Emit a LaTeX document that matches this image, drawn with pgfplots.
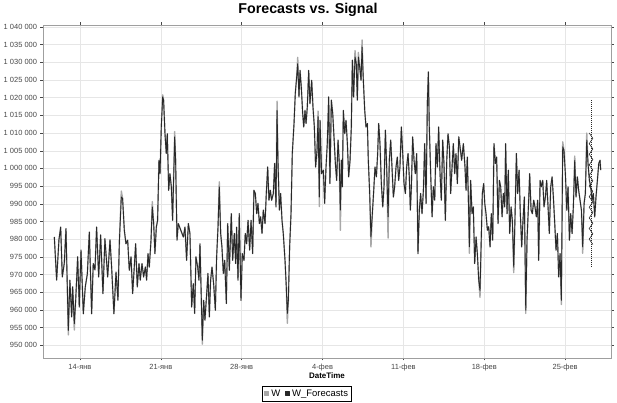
\documentclass[border=0pt]{standalone}
\usepackage{fontspec}
\setmainfont{Liberation Sans}
\usepackage{pgfplots}
\usepackage{pgfplotstable}
\pgfplotsset{compat=1.18}
\definecolor{wgray}{RGB}{168,168,168}
\definecolor{fblack}{RGB}{40,40,40}
\definecolor{tickgray}{RGB}{70,70,70}
\definecolor{gridgray}{RGB}{230,230,230}
\pgfplotstableread{
d W F
11.78 980600 980600
11.98 968400 968400
12.18 979800 979800
12.33 983400 983400
12.47 969300 969300
12.64 973100 973100
12.79 983000 983000
12.99 952900 954200
13.13 968400 968400
13.28 958000 958000
13.37 966500 966500
13.51 954300 956100
13.63 962800 962800
13.80 975000 975000
13.94 960800 960800
14.09 976900 976900
14.29 958900 958900
14.46 966500 966500
14.64 970200 970200
14.81 982000 982000
15.01 958900 958900
15.15 973100 973100
15.30 971300 971300
15.44 983400 983400
15.62 969300 969300
15.79 981200 981200
15.99 964600 964600
16.16 980100 980100
16.40 969300 969300
16.60 979800 979800
16.74 972100 972100
16.94 958900 958900
17.12 970700 970700
17.29 962700 962700
17.41 979200 979200
17.58 993600 991900
17.69 991500 991500
17.84 982500 982500
17.98 978700 978700
18.13 979700 979700
18.27 971200 971200
18.42 975000 975000
18.56 964600 964600
18.70 972100 972100
18.82 978700 978700
18.96 966500 966500
19.11 973100 973100
19.22 968400 968400
19.37 973100 973100
19.51 969300 969300
19.66 972100 972100
19.77 968400 968400
19.89 975900 975900
20.00 972100 972100
20.15 979700 979700
20.26 990600 989100
20.38 984400 984400
20.49 975900 975900
20.61 983400 983400
20.72 985300 985300
20.84 1002300 1002300
20.93 998500 998500
21.04 1011700 1011700
21.16 1020800 1020200
21.24 1019300 1019300
21.36 1009800 1009800
21.47 1004200 1004200
21.56 1009800 1009800
21.68 993800 993800
21.79 998500 998500
21.91 994800 994800
22.02 985300 985300
22.20 1010400 1008900
22.28 1002300 1002300
22.40 979700 979700
22.51 984400 984400
22.95 980600 980600
23.09 983400 983400
23.23 974000 974000
23.38 984400 984400
23.52 981600 981600
23.67 960800 960800
23.81 967400 967400
23.93 959000 959000
24.04 975000 975000
24.19 972100 972100
24.30 968400 968400
24.39 978700 978700
24.48 966500 966500
24.59 950300 951400
24.71 962700 962700
24.82 957100 957100
24.97 964600 964600
25.08 970300 970300
25.20 958000 958000
25.31 968400 968400
25.43 972100 972100
25.57 967400 967400
25.72 959900 959900
25.83 975000 975000
25.95 983400 983400
26.06 996200 994800
26.18 981600 981600
26.29 977800 977800
26.41 970300 970300
26.53 974000 974000
26.67 961800 961800
26.79 984400 984400
26.93 971200 971200
27.10 987200 987200
27.22 974000 974000
27.36 981600 981600
27.48 973100 973100
27.56 983400 983400
27.68 968400 968400
27.79 987200 987200
27.94 962700 962700
28.05 975900 975900
28.20 974000 974000
28.31 981600 981600
28.43 978700 978700
28.55 985300 985300
28.69 976900 976900
28.81 985300 985300
28.95 975900 975900
29.06 993800 993800
29.18 992900 992900
29.30 987200 987200
29.41 990100 990100
29.53 984400 984400
29.64 986300 986300
29.76 981600 981600
29.87 988200 988200
30.02 984400 984400
30.13 992900 992900
30.25 1000400 1000400
30.36 991000 991000
30.48 993800 993800
30.59 991000 991000
30.74 992900 992900
30.85 1001400 1001400
30.97 989100 989100
31.06 1019000 1016400
31.14 1002300 1002300
31.26 988200 988200
31.37 992900 992900
31.49 985300 985300
31.60 981600 981600
31.75 974000 974000
31.86 966500 966500
31.95 956200 959000
32.04 962700 962700
32.15 977800 977800
32.27 987200 987200
32.38 1004200 1004200
32.53 1012700 1012700
32.64 1021200 1021200
32.76 1025900 1025900
32.85 1031400 1029600
32.96 1020200 1020200
33.05 1027700 1027700
33.16 1023000 1023000
33.28 1015500 1015500
33.37 1011700 1011700
33.48 1016400 1016400
33.57 1012700 1012700
33.68 1017400 1017400
33.80 1027700 1027700
33.91 1018300 1018300
34.06 1024900 1024900
34.17 1017400 1017400
34.29 1011700 1011700
34.40 1000400 1000400
34.52 1005100 1005100
34.61 1016200 1014600
34.72 989200 991900
34.78 1013600 1013600
34.92 998500 998500
35.07 999500 999500
35.18 990100 990100
35.30 1000400 1000400
35.41 1007000 1007000
35.53 1020200 1020200
35.64 995700 995700
35.76 1019300 1019300
35.88 1015500 1015500
35.99 1008900 1008900
36.11 1001400 1001400
36.22 996600 996600
36.34 1008000 1008000
36.45 1001400 1001400
36.54 982500 988200
36.63 1002300 1002300
36.71 994800 994800
36.80 1016400 1016400
36.92 1009800 1009800
37.03 1013600 1013600
37.15 1007000 1007000
37.26 997600 997600
37.38 1002300 1002300
37.49 1011700 1011700
37.58 1030600 1030600
37.69 1020200 1020200
37.81 1033300 1031500
37.92 1029600 1029600
38.01 1019300 1019300
38.10 1032800 1031500
38.21 1028700 1028700
38.33 1024900 1024900
38.42 1036300 1034300
38.53 1024900 1024900
38.65 1016400 1016400
38.76 1011700 1011700
38.88 1012700 1012700
38.96 1002300 1002300
39.08 992900 992900
39.19 977800 980600
39.31 987200 987200
39.43 993800 993800
39.54 1000400 1000400
39.66 997600 997600
39.77 1004200 1004200
39.86 1012700 1012700
39.97 1007000 1007000
40.09 995700 995700
40.21 989100 989100
40.32 994800 994800
40.44 1010800 1010800
40.55 1000400 1000400
40.67 980300 986300
40.78 1002300 1002300
40.90 1008000 1008000
41.01 1000400 1000400
41.13 991900 991900
41.24 994800 994800
41.36 1000400 1000400
41.47 1003200 1003200
41.59 996600 996600
41.70 1000400 1000400
41.82 1011700 1011700
41.94 1004200 1004200
42.05 995700 995700
42.17 992900 992900
42.28 1000400 1000400
42.40 1004200 1004200
42.51 997600 997600
42.60 988200 988200
42.69 994800 994800
42.80 1008900 1008900
42.92 1002300 1002300
43.03 998500 998500
43.15 1004200 1004200
43.26 975900 975900
43.38 988200 988200
43.49 992900 992900
43.61 987200 987200
43.73 993800 993800
43.84 1007000 1007000
43.96 990100 990100
44.07 1018300 1018300
44.16 1027300 1027300
44.24 1011700 1011700
44.36 998500 998500
44.48 986300 986300
44.59 994800 994800
44.71 991000 991000
44.82 1007000 1007000
44.94 1000400 1000400
45.05 1011700 1011700
45.17 998500 998500
45.28 991000 991000
45.40 1008000 1008000
45.51 1001400 1001400
45.63 985300 985300
45.75 1002300 1002300
45.86 1009800 1009800
45.98 1006100 1006100
46.09 992900 992900
46.21 1000400 1000400
46.32 1007000 1007000
46.44 998500 998500
46.55 1004200 1004200
46.67 995700 995700
46.79 1008900 1008900
46.90 1006100 1006100
47.04 1002300 1002300
47.19 1007000 1007000
47.33 1000400 1000400
47.42 993800 993800
47.53 1003200 1003200
47.62 991900 991900
47.71 976000 977800
47.82 996600 996600
47.94 987200 987200
48.05 989100 989100
48.17 973100 973100
48.29 980600 980600
48.40 975900 975900
48.52 968400 968400
48.63 963500 965500
48.75 981600 981600
48.83 992900 992900
48.95 995700 995700
49.04 990100 990100
49.15 987200 987200
49.27 982500 982500
49.38 983500 983500
49.50 977800 977800
49.61 987200 987200
49.73 979700 979700
49.84 1007000 1007000
49.96 1001400 1001400
50.07 1003200 1003200
50.19 984400 984400
50.31 996600 996600
50.42 994800 994800
50.54 986300 986300
50.65 992900 992900
50.77 989100 989100
50.85 1007000 1007000
50.97 987200 987200
51.08 999500 999500
51.20 981600 981600
51.32 989100 989100
51.43 985300 985300
51.55 970500 972100
51.66 986300 986300
51.78 1004200 1004200
51.89 992900 992900
52.01 999500 999500
52.12 987200 987200
52.24 977800 977800
52.35 985300 985300
52.47 991900 991900
52.59 959000 959900
52.70 979700 979700
52.82 989100 989100
52.93 998500 998500
53.05 988200 988200
53.16 987200 987200
53.28 991000 991000
53.39 989100 989100
53.51 986300 986300
53.62 991000 991000
53.71 974000 974000
53.83 996600 996600
53.94 994800 994800
54.06 996600 996600
54.17 989100 989100
54.29 991900 991900
54.40 996600 996600
54.52 989100 989100
54.63 981600 981600
54.75 994800 994800
54.87 997600 997600
54.98 991900 991900
55.10 984400 984400
55.21 976900 976900
55.33 981600 981600
55.44 969300 969300
55.56 975900 975900
55.67 961500 962700
55.79 1007500 1006100
55.90 1005100 1005100
56.02 998500 998500
56.14 988200 988200
56.25 994800 994800
56.37 979700 979700
56.48 987200 987200
56.60 981600 981600
56.71 989100 989100
56.83 1003500 1002300
56.94 991900 991900
57.06 997600 997600
57.17 993800 993800
57.29 991000 991000
57.41 988200 988200
57.52 976000 977800
57.64 990100 990100
57.75 992900 992900
57.87 1010000 1008000
57.98 1001400 1001400
58.10 996600 996600
58.21 994800 994800
58.33 991000 991000
58.44 992900 992900
58.56 986300 986300
58.67 991900 991900
58.79 996600 996600
58.91 1001400 1001400
59.02 1002300 1002300
59.08 999500 999500
}\sig
\pgfplotstableread{
d F
58.08 1010000
58.40 1008500
58.08 1007000
58.40 1005500
58.08 1004000
58.40 1002500
58.08 1001000
58.40 999500
58.08 998000
58.40 996500
58.08 995000
58.40 993500
58.08 992000
58.40 990500
58.08 989000
58.40 987500
58.08 986000
58.40 984500
58.08 983000
58.40 981500
58.08 980000
58.40 978500
}\fz
\pgfplotstableread{
d F
58.28 1019300
58.28 972100
}\fv
\begin{document}
\begin{tikzpicture}
\begin{axis}[
  scale only axis, width=568bp, height=333bp,
  xmin=10.80, xmax=59.97, ymin=946410, ymax=1040565,
  xtick={14,21,28,35,42,49,56},
  xticklabels={14-янв,21-янв,28-янв,4-фев,11-фев,18-фев,25-фев},
  ytick={950000,955000,960000,965000,970000,975000,980000,985000,990000,995000,1000000,1005000,1010000,1015000,1020000,1025000,1030000,1035000,1040000},
  scaled y ticks=false,
  yticklabel style={/pgf/number format/fixed, /pgf/number format/precision=0, /pgf/number format/1000 sep={\ }, /pgf/number format/assume math mode=true},
  tick align=outside, major tick length=2.5bp,
  tick style={tickgray, line width=0.4pt},
  axis line style={draw=gray!75, line width=0.5pt},
  grid=major, grid style={gridgray, line width=0.4pt},
  tick label style={font=\fontsize{7.5}{9}\selectfont, text=tickgray},
  xlabel={DateTime},
  xlabel style={font=\bfseries\fontsize{8}{10}\selectfont, at={(0.5,0)}, anchor=base, yshift=-21bp},
  title={Forecasts vs. Signal},
  title style={at={(0.4665,1)}, anchor=base, yshift=5.3bp, font=\bfseries\fontsize{14.3}{17}\selectfont},
  legend style={at={(0.4648,-0.0841)}, anchor=north, legend columns=2, draw=black, line width=0.5pt,
    font=\fontsize{9.5}{11}\selectfont, inner sep=1.5bp,
    /tikz/every even column/.append style={column sep=3bp}},
]
\addplot[wgray, line width=1.4pt, line join=round,
  legend image code/.code={\fill[wgray] (0bp,-2bp) rectangle (4bp,2bp);}]
  table[x=d,y=W]{\sig};
\addlegendentry{W}
\addplot[fblack, line width=0.9pt, line join=round,
  legend image code/.code={\fill[fblack] (0bp,-2bp) rectangle (4bp,2bp);}]
  table[x=d,y=F]{\sig};
\addlegendentry{W\_Forecasts}
\addplot[fblack, line width=0.5pt, dash pattern=on 1pt off 1pt, forget plot] table[x=d,y=F]{\fv};
\addplot[fblack, line width=0.6pt, forget plot] table[x=d,y=F]{\fz};
\end{axis}
\path[use as bounding box] ([xshift=-43bp,yshift=-45bp]current axis.south west) rectangle ([xshift=6bp,yshift=18bp]current axis.north east);
\end{tikzpicture}
\end{document}
